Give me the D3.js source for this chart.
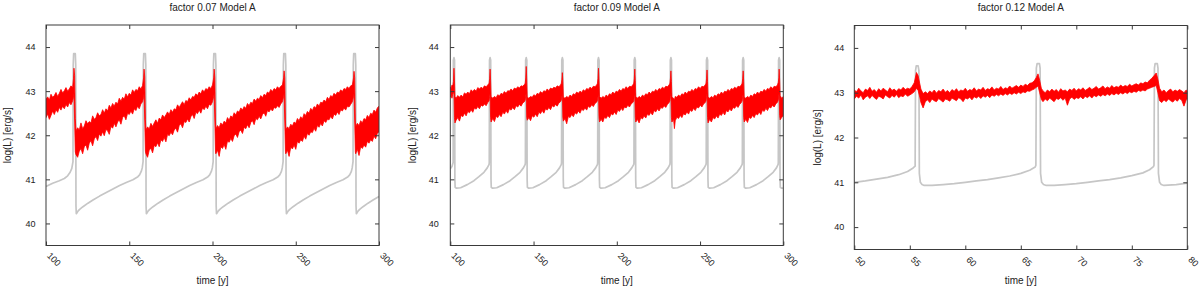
<!DOCTYPE html>
<html><head><meta charset="utf-8">
<script src="https://cdn.jsdelivr.net/npm/d3@7"></script>
<style>body{margin:0;background:#fff}svg{display:block}</style>
</head><body><svg id="c" width="1200" height="289"></svg>
<script>
// ---------------- DATA ----------------
const titles = ["factor 0.07 Model A", "factor 0.09 Model A", "factor 0.12 Model A"];
const xDomains = [[100, 300], [100, 300], [50, 80]];
const xTickValues = [[100, 150, 200, 250, 300], [100, 150, 200, 250, 300], [50, 55, 60, 65, 70, 75, 80]];
const yDomain = [39.5, 44.5];
const yTickValues = [40, 41, 42, 43, 44];
const xLabel = "time [y]";
const yLabel = "log(L) [erg/s]";

// gray model curve: [time, logL]
const gray1 = [[100,40.84],[104,40.91],[108,40.97],[111,41.02],[113,41.08],[114.5,41.16],[115.5,41.25],[116.2,41.4],[116.35,43.6],[116.6,43.85],[117.6,43.85],[117.85,43.6],[118.0,40.4],[118.2,40.22],
[118.7,40.25],[119.2,40.28],[120.2,40.32],[122.2,40.38],[125.2,40.46],[128.2,40.53],[132.2,40.62],[136.2,40.70],[140.2,40.78],[144.2,40.86],[148.2,40.93],[152.2,40.99],[155.2,41.06],[156.2,41.1],[157.2,41.18],[157.8,41.26],[158.3,41.4],[158.45,43.6],[158.7,43.85],[159.7,43.85],[159.95,43.6],[160.1,40.4],[160.3,40.22],
[160.8,40.25],[161.3,40.28],[162.3,40.32],[164.3,40.38],[167.3,40.46],[170.3,40.53],[174.3,40.62],[178.3,40.70],[182.3,40.78],[186.3,40.86],[190.3,40.93],[194.3,40.99],[197.3,41.06],[198.3,41.1],[199.3,41.18],[199.9,41.26],[200.4,41.4],[200.55,43.6],[200.8,43.85],[201.8,43.85],[202.05,43.6],[202.2,40.4],[202.4,40.22],
[202.9,40.25],[203.4,40.28],[204.4,40.32],[206.4,40.38],[209.4,40.46],[212.4,40.53],[216.4,40.62],[220.4,40.70],[224.4,40.78],[228.4,40.86],[232.4,40.93],[236.4,40.99],[239.4,41.06],[240.4,41.1],[241.4,41.18],[241.9,41.26],[242.4,41.4],[242.55,43.6],[242.8,43.85],[243.8,43.85],[244.05,43.6],[244.2,40.4],[244.4,40.22],
[244.9,40.25],[245.4,40.28],[246.4,40.32],[248.4,40.38],[251.4,40.46],[254.4,40.53],[258.4,40.62],[262.4,40.70],[266.4,40.78],[270.4,40.86],[274.4,40.93],[278.4,40.99],[281.4,41.06],[282.4,41.1],[283.4,41.18],[283.9,41.26],[284.4,41.4],[284.55,43.6],[284.8,43.85],[285.8,43.85],[286.05,43.6],[286.2,40.4],[286.4,40.22],
[286.9,40.25],[287.4,40.28],[288.4,40.32],[290.4,40.38],[293.4,40.46],[296.4,40.53],[300,40.61]];

const gray2 = [[100,41.24],[101,41.29],[101.7,41.38],[101.85,43.7],[102.2,43.76],[102.55,43.7],[102.75,41.0],[102.9,40.82],[103.7,40.8],[106.2,40.81],[110.2,40.88],[114.2,40.97],[117.2,41.06],[120.2,41.16],[122.2,41.26],[123.3,41.34],[123.4,41.38],[123.55,43.7],[123.9,43.76],[124.25,43.7],[124.45,41.0],[124.6,40.82],[125.4,40.8],[127.9,40.81],[131.9,40.88],[135.9,40.97],[138.9,41.06],[141.9,41.16],[143.9,41.26],[145.0,41.34],[145.1,41.38],[145.25,43.7],[145.6,43.76],[145.95,43.7],[146.15,41.0],[146.3,40.82],[147.1,40.8],[149.6,40.81],[153.6,40.88],[157.6,40.97],[160.6,41.06],[163.6,41.16],[165.6,41.26],[166.7,41.34],[166.8,41.38],[166.95,43.7],[167.3,43.76],[167.65,43.7],[167.85,41.0],[168.0,40.82],[168.8,40.8],[171.3,40.81],[175.3,40.88],[179.3,40.97],[182.3,41.06],[185.3,41.16],[187.3,41.26],[188.4,41.34],[188.5,41.38],[188.65,43.7],[189.0,43.76],[189.35,43.7],[189.55,41.0],[189.7,40.82],[190.5,40.8],[193.0,40.81],[197.0,40.88],[201.0,40.97],[204.0,41.06],[207.0,41.16],[209.0,41.26],[210.2,41.34],[210.3,41.38],[210.45,43.7],[210.8,43.76],[211.15,43.7],[211.35,41.0],[211.5,40.82],[212.3,40.8],[214.8,40.81],[218.8,40.88],[222.8,40.97],[225.8,41.06],[228.8,41.16],[230.8,41.26],[231.9,41.34],[232.0,41.38],[232.15,43.7],[232.5,43.76],[232.85,43.7],[233.05,41.0],[233.2,40.82],[234.0,40.8],[236.5,40.81],[240.5,40.88],[244.5,40.97],[247.5,41.06],[250.5,41.16],[252.5,41.26],[253.6,41.34],[253.7,41.38],[253.85,43.7],[254.2,43.76],[254.55,43.7],[254.75,41.0],[254.9,40.82],[255.7,40.8],[258.2,40.81],[262.2,40.88],[266.2,40.97],[269.2,41.06],[272.2,41.16],[274.2,41.26],[275.3,41.34],[275.4,41.38],[275.55,43.7],[275.9,43.76],[276.25,43.7],[276.45,41.0],[276.6,40.82],[277.4,40.8],[279.9,40.81],[283.9,40.88],[287.9,40.97],[290.9,41.06],[293.9,41.16],[295.9,41.26],[296.9,41.34],[297.0,41.38],[297.15,43.7],[297.5,43.76],[297.85,43.7],[298.05,41.0],[298.2,40.82],[299,40.8],[300,40.8]];

const gray3 = [[50,41.0],[51,41.03],[52,41.07],[53,41.11],[54,41.17],[54.8,41.24],[55.3,41.32],[55.48,41.36],[55.52,43.5],[55.58,43.6],[55.75,43.6],[55.82,43.5],[55.86,41.2],[55.95,41.0],[56.1,40.95],[56.3,40.93],[57,40.93],[58,40.95],[59,40.97],[60,41.0],[61,41.03],[62,41.06],[63,41.1],[64,41.14],[65,41.2],[65.8,41.27],[66.3,41.34],[66.36,41.38],[66.4,43.55],[66.47,43.65],[66.68,43.65],[66.74,43.55],[66.78,41.2],[66.88,41.0],[67.05,40.95],[67.3,40.93],[68,40.93],[69,40.95],[70,40.97],[71,41.0],[72,41.03],[73,41.06],[74,41.1],[75,41.15],[76,41.21],[76.6,41.28],[76.95,41.35],[77.0,41.38],[77.04,43.55],[77.1,43.65],[77.3,43.65],[77.36,43.55],[77.4,41.2],[77.5,41.0],[77.65,40.95],[77.9,40.93],[79,40.95],[80,40.98]];

// red observed band: [time, low edge, high edge]
const red1 = [[100,42.40,42.82],[101,42.48,42.87],[102,42.36,42.80],[103,42.45,42.93],[104,42.55,42.86],[105,42.47,42.90],[106,42.58,42.97],[107,42.52,42.88],[108,42.63,42.95],[109,42.57,43.04],[110,42.66,42.96],[111,42.60,43.01],[112,42.70,43.08],[113,42.64,43.00],[114,42.74,43.05],[115,42.69,43.12],[116,42.78,43.08],[116.5,42.86,43.28],[116.8,42.95,43.52],[117.2,42.30,43.35],[117.6,41.62,42.38],
[118,41.56,42.10],[119,41.50,42.17],[120,41.64,42.12],[121,41.70,42.28],[122,41.58,42.15],[123,41.74,42.21],[124,41.78,42.33],[125,41.66,42.26],[126,41.82,42.31],[127,41.88,42.28],[128,41.76,42.44],[129,41.92,42.36],[130,41.97,42.40],[131,41.88,42.51],[132,42.03,42.44],[133,41.98,42.47],[134,42.08,42.58],[135,41.99,42.50],[136,42.13,42.60],[137,42.10,42.55],[138,42.02,42.68],[139,42.20,42.62],[140,42.16,42.72],[141,42.27,42.66],[142,42.19,42.75],[143,42.30,42.71],[144,42.35,42.84],[145,42.25,42.77],[146,42.40,42.86],[147,42.44,42.82],[148,42.35,42.94],[149,42.50,42.87],[150,42.47,42.95],[151,42.55,42.91],[152,42.48,43.03],[153,42.60,42.97],[154,42.56,43.04],[155,42.66,43.01],[156,42.60,43.10],[157,42.71,43.05],[158,42.76,43.13],[158.6,42.86,43.30],[158.9,42.95,43.50],[159.3,42.30,43.32],[159.7,41.64,42.36],
[160,41.58,42.12],[161,41.50,42.19],[162,41.66,42.14],[163,41.71,42.27],[164,41.60,42.20],[165,41.77,42.28],[166,41.74,42.35],[167,41.83,42.27],[168,41.74,42.39],[169,41.90,42.35],[170,41.86,42.46],[171,41.95,42.40],[172,41.85,42.46],[173,42.02,42.53],[174,41.99,42.47],[175,42.07,42.58],[176,42.01,42.52],[177,42.12,42.60],[178,42.16,42.58],[179,42.07,42.69],[180,42.22,42.63],[181,42.26,42.70],[182,42.17,42.76],[183,42.31,42.69],[184,42.29,42.79],[185,42.37,42.76],[186,42.30,42.85],[187,42.42,42.80],[188,42.47,42.88],[189,42.38,42.86],[190,42.52,42.94],[191,42.49,42.90],[192,42.57,42.98],[193,42.50,42.94],[194,42.62,43.03],[195,42.58,42.98],[196,42.66,43.06],[197,42.60,43.03],[198,42.70,43.10],[199,42.68,43.06],[200,42.76,43.14],[200.7,42.88,43.30],[201.0,42.95,43.50],[201.4,42.30,43.30],[201.8,41.62,42.30],
[202,41.58,42.14],[203,41.66,42.22],[204,41.52,42.17],[205,41.74,42.28],[206,41.70,42.23],[207,41.79,42.32],[208,41.68,42.28],[209,41.87,42.40],[210,41.84,42.34],[211,41.93,42.44],[212,41.86,42.40],[213,41.99,42.51],[214,42.03,42.46],[215,41.95,42.55],[216,42.08,42.52],[217,42.12,42.62],[218,42.04,42.57],[219,42.18,42.65],[220,42.15,42.61],[221,42.24,42.72],[222,42.17,42.67],[223,42.29,42.75],[224,42.33,42.72],[225,42.24,42.82],[226,42.38,42.77],[227,42.35,42.84],[228,42.43,42.81],[229,42.37,42.90],[230,42.47,42.85],[231,42.51,42.93],[232,42.43,42.90],[233,42.56,42.98],[234,42.53,42.95],[235,42.60,43.04],[236,42.55,42.99],[237,42.63,43.06],[238,42.61,43.03],[239,42.67,43.10],[240,42.63,43.06],[241,42.71,43.11],[242,42.76,43.14],[242.7,42.88,43.30],[243.0,42.95,43.46],[243.4,42.30,43.30],[243.8,41.64,42.35],
[244,41.58,42.12],[245,41.66,42.19],[246,41.52,42.15],[247,41.73,42.25],[248,41.69,42.21],[249,41.78,42.30],[250,41.68,42.27],[251,41.86,42.38],[252,41.82,42.33],[253,41.90,42.42],[254,41.86,42.37],[255,41.98,42.49],[256,41.91,42.45],[257,42.04,42.54],[258,42.00,42.50],[259,42.08,42.61],[260,42.06,42.56],[261,42.16,42.65],[262,42.09,42.62],[263,42.22,42.71],[264,42.18,42.66],[265,42.27,42.75],[266,42.21,42.73],[267,42.33,42.80],[268,42.29,42.76],[269,42.36,42.86],[270,42.35,42.81],[271,42.43,42.90],[272,42.37,42.87],[273,42.48,42.95],[274,42.45,42.91],[275,42.53,42.98],[276,42.47,42.96],[277,42.58,43.03],[278,42.55,42.99],[279,42.62,43.06],[280,42.57,43.04],[281,42.66,43.10],[282,42.64,43.06],[283,42.70,43.12],[284,42.76,43.14],[284.7,42.88,43.30],[285.0,42.95,43.45],[285.4,42.30,43.30],[285.8,41.62,42.30],
[286,41.58,42.20],[287,41.68,42.27],[288,41.54,42.22],[289,41.74,42.33],[290,41.70,42.28],[291,41.78,42.38],[292,41.73,42.35],[293,41.86,42.45],[294,41.82,42.40],[295,41.90,42.50],[296,41.86,42.47],[297,41.98,42.57],[298,41.92,42.52],[299,42.04,42.62],[300,42.08,42.66]];

const red2 = [[100,42.86,43.10],[100.5,42.90,43.06],[101,42.84,43.14],[101.5,42.93,43.12],[101.9,42.96,43.22],[102.2,43.00,43.52],[102.5,42.40,43.25],[102.8,42.28,42.88],
[103.5,42.34,42.84],[104.5,42.40,42.90],[105.5,42.32,42.86],[106.5,42.45,42.91],[107.5,42.42,42.87],[108.5,42.50,42.96],[109.5,42.44,42.93],[110.5,42.54,42.98],[111.5,42.51,42.94],[112.5,42.58,43.03],[113.5,42.52,42.99],[114.5,42.62,43.04],[115.5,42.59,43.00],[116.5,42.65,43.08],[117.5,42.60,43.05],[118.5,42.68,43.09],[119.5,42.66,43.06],[120.5,42.71,43.12],[121.5,42.67,43.10],[122.5,42.74,43.14],[123.3,42.78,43.18],[123.6,42.88,43.28],[123.9,42.95,43.50],[124.2,42.40,43.25],[124.5,42.30,42.88],
[125.5,42.38,42.84],[126.5,42.31,42.88],[127.5,42.43,42.85],[128.5,42.40,42.92],[129.5,42.47,42.89],[130.5,42.42,42.95],[131.5,42.52,42.93],[132.5,42.48,42.99],[133.5,42.56,42.95],[134.5,42.50,43.01],[135.5,42.60,43.00],[136.5,42.57,43.05],[137.5,42.63,43.01],[138.5,42.58,43.07],[139.5,42.67,43.05],[140.5,42.64,43.10],[141.5,42.70,43.07],[142.5,42.66,43.12],[143.5,42.73,43.11],[144.5,42.76,43.15],[145.0,42.80,43.18],[145.3,42.90,43.30],[145.6,42.96,43.56],[145.9,42.40,43.25],[146.2,42.34,42.86],
[147.2,42.40,42.84],[148.2,42.33,42.88],[149.2,42.44,42.86],[150.2,42.41,42.92],[151.2,42.48,42.89],[152.2,42.42,42.95],[153.2,42.52,42.93],[154.2,42.49,42.99],[155.2,42.56,42.95],[156.2,42.50,43.01],[157.2,42.60,42.99],[158.2,42.57,43.05],[159.2,42.63,43.01],[160.2,42.58,43.07],[161.2,42.67,43.05],[162.2,42.64,43.09],[163.2,42.70,43.07],[164.2,42.66,43.12],[165.2,42.73,43.10],[166.2,42.76,43.14],[166.7,42.80,43.18],[167.0,42.88,43.26],[167.3,42.95,43.42],[167.6,42.40,43.22],[167.9,42.32,42.86],
[168.9,42.38,42.84],[169.9,42.26,42.88],[170.9,42.43,42.85],[171.9,42.40,42.91],[172.9,42.47,42.88],[173.9,42.42,42.94],[174.9,42.51,42.92],[175.9,42.48,42.98],[176.9,42.55,42.95],[177.9,42.50,43.00],[178.9,42.59,42.97],[179.9,42.56,43.03],[180.9,42.62,43.00],[181.9,42.57,43.06],[182.9,42.66,43.04],[183.9,42.63,43.09],[184.9,42.69,43.06],[185.9,42.65,43.11],[186.9,42.72,43.10],[187.9,42.75,43.14],[188.4,42.79,43.18],[188.7,42.88,43.28],[189.0,42.96,43.52],[189.3,42.40,43.24],[189.6,42.30,42.88],
[190.6,42.36,42.84],[191.6,42.30,42.88],[192.6,42.41,42.85],[193.6,42.38,42.91],[194.6,42.45,42.88],[195.6,42.40,42.94],[196.6,42.49,42.92],[197.6,42.46,42.98],[198.6,42.53,42.94],[199.6,42.47,43.00],[200.6,42.57,42.98],[201.6,42.54,43.04],[202.6,42.61,43.00],[203.6,42.56,43.06],[204.6,42.64,43.04],[205.6,42.62,43.10],[206.6,42.68,43.06],[207.6,42.64,43.11],[208.6,42.71,43.10],[209.6,42.74,43.14],[210.2,42.78,43.18],[210.5,42.88,43.28],[210.8,42.95,43.50],[211.1,42.40,43.24],[211.4,42.30,42.88],
[212.4,42.36,42.84],[213.4,42.28,42.88],[214.4,42.40,42.85],[215.4,42.37,42.91],[216.4,42.44,42.88],[217.4,42.39,42.94],[218.4,42.48,42.92],[219.4,42.45,42.98],[220.4,42.52,42.94],[221.4,42.46,43.00],[222.4,42.56,42.98],[223.4,42.53,43.04],[224.4,42.60,43.00],[225.4,42.55,43.06],[226.4,42.63,43.04],[227.4,42.61,43.09],[228.4,42.67,43.06],[229.4,42.63,43.11],[230.4,42.70,43.10],[231.4,42.74,43.14],[231.9,42.78,43.18],[232.2,42.88,43.28],[232.5,42.95,43.46],[232.8,42.40,43.22],[233.1,42.30,42.86],
[234.1,42.36,42.84],[234.6,42.15,42.80],[235.1,42.33,42.88],[236.1,42.41,42.86],[237.1,42.38,42.91],[238.1,42.45,42.88],[239.1,42.40,42.94],[240.1,42.49,42.92],[241.1,42.46,42.98],[242.1,42.53,42.94],[243.1,42.48,43.00],[244.1,42.57,42.98],[245.1,42.54,43.04],[246.1,42.61,43.00],[247.1,42.56,43.06],[248.1,42.64,43.04],[249.1,42.62,43.10],[250.1,42.68,43.06],[251.1,42.64,43.11],[252.1,42.71,43.10],[253.1,42.74,43.14],[253.6,42.78,43.18],[253.9,42.88,43.28],[254.2,42.95,43.48],[254.5,42.40,43.22],[254.8,42.28,42.86],
[255.8,42.36,42.84],[256.8,42.30,42.88],[257.8,42.40,42.85],[258.8,42.37,42.91],[259.8,42.44,42.88],[260.8,42.39,42.94],[261.8,42.48,42.92],[262.8,42.45,42.98],[263.8,42.52,42.94],[264.8,42.46,43.00],[265.8,42.56,42.98],[266.8,42.53,43.04],[267.8,42.60,43.00],[268.8,42.55,43.06],[269.8,42.63,43.04],[270.8,42.61,43.09],[271.8,42.67,43.06],[272.8,42.63,43.11],[273.8,42.70,43.10],[274.8,42.74,43.14],[275.3,42.78,43.18],[275.6,42.88,43.28],[275.9,42.95,43.46],[276.2,42.40,43.22],[276.5,42.30,42.86],
[277.5,42.36,42.84],[278.5,42.29,42.88],[279.5,42.41,42.85],[280.5,42.38,42.91],[281.5,42.45,42.88],[282.5,42.40,42.94],[283.5,42.49,42.92],[284.5,42.46,42.98],[285.5,42.53,42.94],[286.5,42.47,43.00],[287.5,42.57,42.98],[288.5,42.54,43.04],[289.5,42.61,43.00],[290.5,42.56,43.06],[291.5,42.64,43.04],[292.5,42.62,43.10],[293.5,42.68,43.06],[294.5,42.64,43.11],[295.5,42.71,43.10],[296.5,42.75,43.14],[297.0,42.80,43.20],[297.3,42.90,43.30],[297.5,42.96,43.50],[297.8,42.45,43.25],[298.1,42.35,42.90],[299,42.40,42.84],[300,42.44,42.88]];

const red3 = [[50.0,42.86,43.06],[50.2,42.92,43.02],[50.4,42.88,43.10],[50.6,42.95,43.04],[50.8,42.84,43.00],[51.0,42.90,43.08],[51.2,42.93,43.05],[51.4,42.87,43.12],[51.6,42.94,43.03],[51.8,42.89,43.07],[52.0,42.85,43.01],[52.2,42.92,43.09],[52.4,42.90,43.04],[52.6,42.86,43.10],[52.8,42.95,43.06],[53.0,42.91,43.02],[53.2,42.88,43.11],[53.4,42.94,43.05],[53.6,42.90,43.08],[53.8,42.96,43.03],[54.0,42.89,43.09],[54.2,42.93,43.06],[54.4,42.91,43.12],[54.6,42.97,43.07],[54.8,42.92,43.10],[55.0,42.95,43.08],[55.2,42.98,43.14],[55.4,43.02,43.22],[55.6,43.10,43.45],[55.75,43.05,43.38],[55.9,42.90,43.20],[56.0,42.78,43.08],[56.2,42.66,42.98],[56.4,42.80,43.02],[56.6,42.84,42.98],[56.8,42.78,43.04],[57.0,42.86,43.00],[57.2,42.82,43.06],[57.4,42.80,42.99],[57.6,42.87,43.05],[57.8,42.83,43.02],[58.0,42.79,43.08],[58.2,42.86,43.01],[58.4,42.84,43.05],[58.6,42.81,43.00],[58.8,42.88,43.07],[59.0,42.85,43.03],[59.2,42.82,43.09],[59.4,42.89,43.02],[59.6,42.86,43.06],[59.8,42.80,43.04],[60.0,42.88,43.10],[60.2,42.86,43.03],[60.4,42.90,43.07],[60.6,42.84,43.05],[60.8,42.91,43.11],[61.0,42.88,43.04],[61.2,42.92,43.08],[61.4,42.87,43.06],[61.6,42.93,43.12],[61.8,42.90,43.05],[62.0,42.94,43.09],[62.2,42.89,43.07],[62.4,42.95,43.13],[62.6,42.92,43.06],[62.8,42.96,43.10],[63.0,42.93,43.08],[63.2,42.97,43.14],[63.4,42.94,43.07],[63.6,42.98,43.11],[63.8,42.95,43.09],[64.0,42.99,43.15],[64.2,42.96,43.10],[64.4,43.00,43.13],[64.6,42.97,43.16],[64.8,43.01,43.12],[65.0,42.98,43.17],[65.2,43.02,43.14],[65.4,43.00,43.19],[65.6,43.04,43.16],[65.8,43.03,43.21],[66.0,43.06,43.22],[66.2,43.08,43.26],[66.4,43.12,43.34],[66.55,43.15,43.42],[66.7,43.00,43.28],[66.85,42.85,43.10],[67.0,42.80,43.04],[67.2,42.86,43.00],[67.4,42.82,43.06],[67.6,42.88,43.02],[67.8,42.84,43.08],[68.0,42.80,43.03],[68.2,42.87,43.07],[68.4,42.85,43.01],[68.6,42.89,43.09],[68.8,42.83,43.04],[69.0,42.88,43.06],[69.2,42.72,43.02],[69.4,42.86,43.08],[69.6,42.90,43.05],[69.8,42.85,43.10],[70.0,42.89,43.04],[70.2,42.87,43.09],[70.4,42.91,43.06],[70.6,42.86,43.11],[70.8,42.92,43.05],[71.0,42.89,43.08],[71.2,42.93,43.12],[71.4,42.88,43.07],[71.6,42.94,43.10],[71.8,42.91,43.14],[72.0,42.95,43.08],[72.2,42.92,43.11],[72.4,42.96,43.15],[72.6,42.93,43.09],[72.8,42.97,43.13],[73.0,42.94,43.10],[73.2,42.98,43.16],[73.4,42.95,43.11],[73.6,42.99,43.14],[73.8,42.96,43.12],[74.0,43.00,43.17],[74.2,42.97,43.13],[74.4,43.01,43.16],[74.6,42.98,43.14],[74.8,43.02,43.19],[75.0,43.00,43.15],[75.2,43.03,43.18],[75.4,43.01,43.20],[75.6,43.05,43.17],[75.8,43.03,43.22],[76.0,43.06,43.20],[76.2,43.04,43.24],[76.4,43.08,43.22],[76.6,43.10,43.28],[76.8,43.12,43.32],[77.0,43.14,43.38],[77.2,43.16,43.44],[77.35,43.00,43.30],[77.5,42.82,43.10],[77.7,42.78,43.02],[77.9,42.84,43.06],[78.1,42.80,43.00],[78.3,42.86,43.05],[78.5,42.82,43.08],[78.7,42.79,43.02],[78.9,42.85,43.06],[79.1,42.81,43.03],[79.3,42.87,43.07],[79.5,42.83,43.04],[79.7,42.70,43.00],[79.9,42.84,43.06],[80.0,42.86,43.04]];

// ---------------- LAYOUT ----------------
const layout = [
  {left: 46, right: 379, top: 25, bottom: 245.5, yLabelX: 11, tickPad: 10.5},
  {left: 450.3, right: 783.3, top: 25, bottom: 245.5, yLabelX: 416, tickPad: 11.5},
  {left: 854.3, right: 1187.3, top: 25.5, bottom: 249.5, yLabelX: 821, tickPad: 10}
];
const grays = [gray1, gray2, gray3];
const reds = [red1, red2, red3];

const svg = d3.select("#c");
const FONT = "'Liberation Sans', Arial, sans-serif";
const FRAME = "#3a3a3a";

layout.forEach((L, i) => {
  const x = d3.scaleLinear().domain(xDomains[i]).range([L.left, L.right]);
  const y = d3.scaleLinear().domain(yDomain).range([L.bottom, L.top]);
  const g = svg.append("g");

  const cid = "clip" + i;
  svg.append("clipPath").attr("id", cid).append("rect")
    .attr("x", L.left).attr("y", L.top).attr("width", L.right - L.left).attr("height", L.bottom - L.top);

  const plot = g.append("g").attr("clip-path", `url(#${cid})`);
  plot.append("path").datum(grays[i])
    .attr("d", d3.line().x(d => x(d[0])).y(d => y(d[1])))
    .attr("fill", "none").attr("stroke", "#c6c6c6").attr("stroke-width", 1.7)
    .attr("stroke-linejoin", "round");
  plot.append("path").datum(reds[i])
    .attr("d", d3.area().x(d => x(d[0])).y0(d => y(d[1])).y1(d => y(d[2])))
    .attr("fill", "#ff0000").attr("stroke", "#ff0000").attr("stroke-width", 0.8)
    .attr("stroke-linejoin", "miter");

  // axes
  const ax = g.append("g").attr("transform", `translate(0,${L.bottom})`)
    .call(d3.axisBottom(x).tickValues(xTickValues[i]).tickSizeInner(-4).tickSizeOuter(0));
  ax.selectAll("text").attr("x", 7.6).attr("y", 7.6).attr("dy", 0)
    .attr("text-anchor", "start").attr("transform", "rotate(45)");
  g.append("g").attr("transform", `translate(0,${L.top})`)
    .call(d3.axisTop(x).tickValues(xTickValues[i]).tickSizeInner(-4).tickSizeOuter(0).tickFormat(""));
  g.append("g").attr("transform", `translate(${L.left},0)`)
    .call(d3.axisLeft(y).tickValues(yTickValues).tickSizeInner(-4).tickSizeOuter(0).tickPadding(L.tickPad).tickFormat(d3.format("d")));
  g.append("g").attr("transform", `translate(${L.right},0)`)
    .call(d3.axisRight(y).tickValues(yTickValues).tickSizeInner(-4).tickSizeOuter(0).tickFormat(""));

  g.selectAll(".domain").remove();
  g.selectAll(".tick line").attr("stroke", FRAME);
  g.selectAll(".tick text").attr("font-family", FONT).attr("font-size", 9).attr("fill", "#222");
  g.append("rect").attr("x", L.left).attr("y", L.top)
    .attr("width", L.right - L.left).attr("height", L.bottom - L.top)
    .attr("fill", "none").attr("stroke", FRAME).attr("stroke-width", 1);

  const cx = (L.left + L.right) / 2;
  g.append("text").attr("x", cx).attr("y", 10.5).attr("text-anchor", "middle")
    .attr("font-family", FONT).attr("font-size", 10).attr("fill", "#222").text(titles[i]);
  g.append("text").attr("x", cx).attr("y", 283.5).attr("text-anchor", "middle")
    .attr("font-family", FONT).attr("font-size", 10).attr("fill", "#222").text(xLabel);
  g.append("text").attr("transform", `translate(${L.yLabelX},${(L.top + L.bottom) / 2}) rotate(-90)`)
    .attr("text-anchor", "middle")
    .attr("font-family", FONT).attr("font-size", 10).attr("fill", "#222").text(yLabel);
});
</script></body></html>
